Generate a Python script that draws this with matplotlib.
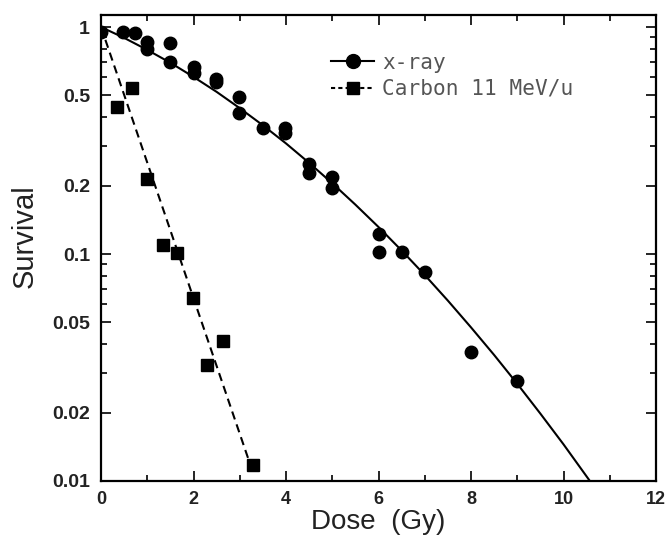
import numpy as np
import matplotlib
matplotlib.use("Agg")
import matplotlib.pyplot as plt
from matplotlib.ticker import FixedLocator, NullFormatter

# x-ray survival points (circles)
xray_dose = [0.0, 0.48, 0.74, 0.99, 1.0, 1.49, 1.49, 2.0, 2.0, 2.49, 2.49,
             2.98, 2.98, 3.5, 3.98, 3.98, 4.5, 4.5, 5.0, 5.0,
             6.0, 6.0, 6.5, 7.0, 8.0, 9.0]
xray_surv = [0.95, 0.95, 0.94, 0.86, 0.80, 0.85, 0.70, 0.67, 0.63, 0.59, 0.57,
             0.49, 0.42, 0.36, 0.36, 0.34, 0.25, 0.227, 0.218, 0.195,
             0.122, 0.102, 0.102, 0.083, 0.037, 0.0276]

# x-ray fitted curve
xray_fit_dose = [0.0, 0.5, 1.0, 1.5, 2.0, 2.5, 3.0, 3.5, 4.0, 4.5, 5.0, 5.5,
                 6.0, 6.5, 7.0, 7.5, 8.0, 8.5, 9.0, 9.5, 10.0, 10.57]
xray_fit_surv = [1.0, 0.896, 0.793, 0.696, 0.603, 0.518, 0.439, 0.369, 0.307,
                 0.252, 0.205, 0.165, 0.1315, 0.1036, 0.0808, 0.0623, 0.0475,
                 0.0359, 0.0268, 0.0198, 0.0145, 0.0100]

# carbon 11 MeV/u points (squares)
carbon_dose = [0.34, 0.66, 0.99, 1.33, 1.64, 1.98, 2.30, 2.63, 3.29]
carbon_surv = [0.446, 0.538, 0.213, 0.110, 0.101, 0.064, 0.0326, 0.0415, 0.0118]

# carbon fitted line (straight on log scale)
carbon_fit_dose = [0.0, 3.18]
carbon_fit_surv = [1.0, 0.0126]

fig = plt.figure(figsize=(6.65, 5.43), dpi=100)
ax = fig.add_axes([0.1519, 0.1142, 0.8346, 0.8582])

ax.plot(xray_fit_dose, xray_fit_surv, color="black", lw=1.5, zorder=2)
ax.plot(carbon_fit_dose, carbon_fit_surv, color="black", lw=1.5,
        dashes=(4, 2.5), zorder=2)
ax.plot(xray_dose, xray_surv, "o", color="black", ms=9, zorder=3)
ax.plot(carbon_dose, carbon_surv, "s", color="black", ms=8.5, zorder=3)

# legend handles
h1, = ax.plot([], [], "-o", color="black", lw=1.5, ms=10)
h2, = ax.plot([], [], "--s", color="black", lw=1.5, ms=9, dashes=(2, 1.5))
leg = ax.legend([h1, h2], ["x-ray", "Carbon 11 MeV/u"],
                loc="upper left", bbox_to_anchor=(0.381, 0.96),
                frameon=False, handlelength=2.0, handletextpad=0.4,
                labelspacing=0.30,
                prop={"family": "DejaVu Sans Mono", "size": 15.2})
for t in leg.get_texts():
    t.set_color("#555555")

ax.set_yscale("log")
ax.set_xlim(0, 12)
ax.set_ylim(0.01, 1.13)

major_y = [0.01, 0.02, 0.05, 0.1, 0.2, 0.5, 1]
minor_y = [k * 10.0**e for e in (-2, -1) for k in range(2, 10)]
minor_y = [v for v in minor_y if v not in (0.02, 0.05, 0.2, 0.5)]
ax.yaxis.set_major_locator(FixedLocator(major_y))
ax.set_yticklabels(["0.01", "0.02", "0.05", "0.1", "0.2", "0.5", "1"])
ax.yaxis.set_minor_locator(FixedLocator(minor_y))
ax.yaxis.set_minor_formatter(NullFormatter())

ax.set_xticks(range(0, 13, 2))
ax.set_xticks(range(0, 13, 1), minor=True)

ax.tick_params(which="both", direction="in", top=True, right=True,
               width=1.2)
ax.tick_params(axis="y", pad=8, labelsize=14)
ax.tick_params(axis="x", pad=7, labelsize=13)
ax.tick_params(which="major", length=7)
ax.tick_params(which="minor", length=4)
for lab in ax.get_xticklabels() + ax.get_yticklabels():
    lab.set_family("Liberation Sans")
    lab.set_fontweight("bold")
    lab.set_color("#222222")

for sp in ax.spines.values():
    sp.set_linewidth(1.6)

ax.set_xlabel("Dose  (Gy)", fontsize=20, family="Liberation Sans",
              color="#222222", labelpad=1)
ax.set_ylabel("Survival", fontsize=21, family="Liberation Sans",
              color="#222222")
ax.yaxis.set_label_coords(-0.112, 0.526)

fig.savefig("out.png", dpi=100)
